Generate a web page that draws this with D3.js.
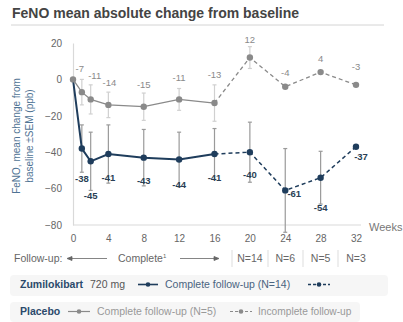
<!DOCTYPE html>
<html><head><meta charset="utf-8">
<script src="https://cdn.jsdelivr.net/npm/d3@7"></script>
<style>
html,body{margin:0;padding:0;background:#fff;}
svg{display:block;font-family:"Liberation Sans",Arial,sans-serif;}
</style></head>
<body><svg id="c" width="403" height="322"></svg>
<script>
// ---- data ----
const weeks = [0, 1, 2, 4, 8, 12, 16, 20, 24, 28, 32];
const weekTicks = [0, 4, 8, 12, 16, 20, 24, 28, 32];
const yTicks = [20, 0, -20, -40, -60, -80];
const zumiValues = [0, -38, -45, -41, -43, -44, -41, -40, -61, -54, -37];
const zumiSEM = [0, 13, 16, 16, 15.5, 15, 14, 16.5, 23, 14.5, null];
const placeboValues = [0, -7, -11, -14, -15, -11, -13, 12, -4, 4, -3];
const placeboSEM = [0, 7, 8, 7, 7.5, 6, 10, 6, null, null, null];
const completeUntilWeek = 16;
const followUpN = ["N=14", "N=6", "N=5", "N=3"];
const followUpWeeks = [20, 24, 28, 32];
// label layout (pixel offsets, not data)
const zumiLabelDx = [0, 0, 0, 0, 0, 0, 0, 0, 9, 0, 5];
const zumiLabelDy = [0, 33, 38, 27, 26, 29, 27, 26, 7, 33, 13];
const plLabelDx = [0, -2, 4, 1, 0, 0, 0, 0, 0, 0, 0];
const plLabelDy = [0, -20, -20, -19, -19, -18, -25, -15, -11, -10, -15];

const NAVY = "#1f3d5c", GREY = "#8a8a8a";
const svg = d3.select("#c");
const x = d3.scaleLinear().domain([0, 32]).range([73, 356]);
const y = d3.scaleLinear().domain([-80, 20]).range([225, 43]);

// title
svg.append("text").attr("x", 12).attr("y", 18).attr("font-size", 14).attr("font-weight", "bold")
  .attr("fill", "#444").text("FeNO mean absolute change from baseline");
svg.append("line").attr("x1", 11).attr("x2", 384).attr("y1", 25).attr("y2", 25)
  .attr("stroke", "#d4d4d4").attr("stroke-width", 1);

// axes
const yAxis = svg.append("g").attr("transform", `translate(${x(0)},0)`)
  .call(d3.axisLeft(y).tickValues(yTicks).tickSize(0).tickPadding(11));
const xAxis = svg.append("g").attr("transform", `translate(0,${y(-80)})`)
  .call(d3.axisBottom(x).tickValues(weekTicks).tickSize(0).tickPadding(10));
[yAxis, xAxis].forEach(g => {
  g.select(".domain").attr("stroke", "#d9d9d9").attr("stroke-width", 1.2);
  g.selectAll("text").attr("fill", "#666").attr("font-size", 10).attr("font-family", "Liberation Sans, Arial, sans-serif");
});
xAxis.select(".domain").attr("d", `M${x(0)},0H${x(32) + 5}`);
svg.append("text").attr("x", 369).attr("y", 231).attr("font-size", 11).attr("fill", "#777").text("Weeks");

// y label
const yl = svg.append("text").attr("transform", `translate(20,136) rotate(-90)`)
  .attr("text-anchor", "middle").attr("font-size", 10).attr("fill", "#4f7394");
yl.append("tspan").attr("x", 0).attr("dy", 0).text("FeNO, mean change from");
yl.append("tspan").attr("x", 0).attr("dy", 13).text("baseline ±SEM (ppb)");

const zumi = weeks.map((w, i) => ({w, v: zumiValues[i], se: zumiSEM[i], i}));
const pl = weeks.map((w, i) => ({w, v: placeboValues[i], se: placeboSEM[i], i}));

function errorBars(data, color) {
  const g = svg.append("g").attr("stroke", color).attr("stroke-width", 1.2);
  data.filter(d => d.se).forEach(d => {
    const top = y(d.v + d.se), bot = Math.min(y(d.v - d.se), 233), cx = x(d.w);
    g.append("line").attr("x1", cx).attr("x2", cx).attr("y1", top).attr("y2", bot);
    g.append("line").attr("x1", cx - 2).attr("x2", cx + 2).attr("y1", top).attr("y2", top);
    g.append("line").attr("x1", cx - 2).attr("x2", cx + 2).attr("y1", bot).attr("y2", bot);
  });
}
errorBars(zumi, "#9a9a9a");
errorBars(pl, "#d0d0d0");

const line = d3.line().x(d => x(d.w)).y(d => y(d.v));
function series(data, color, wSolid, wDash) {
  svg.append("path").datum(data.filter(d => d.w <= completeUntilWeek)).attr("d", line)
    .attr("fill", "none").attr("stroke", color).attr("stroke-width", wSolid);
  svg.append("path").datum(data.filter(d => d.w >= completeUntilWeek)).attr("d", line)
    .attr("fill", "none").attr("stroke", color).attr("stroke-width", wDash).attr("stroke-dasharray", "4,3");
}
series(zumi, NAVY, 2, 1.5);
series(pl, GREY, 1.3, 1.3);
svg.append("g").selectAll("circle").data(zumi.filter(d => d.w > 0)).join("circle")
  .attr("cx", d => x(d.w)).attr("cy", d => y(d.v)).attr("r", 3.2).attr("fill", NAVY);
svg.append("g").selectAll("circle").data(pl).join("circle")
  .attr("cx", d => x(d.w)).attr("cy", d => y(d.v)).attr("r", 3.2).attr("fill", GREY);

// labels
svg.append("g").selectAll("text").data(zumi.filter(d => d.w > 0)).join("text")
  .attr("x", d => x(d.w) + zumiLabelDx[d.i]).attr("y", d => y(d.v) + zumiLabelDy[d.i])
  .attr("text-anchor", "middle").attr("font-size", 9.5).attr("font-weight", "bold").attr("fill", "#2a3f55")
  .text(d => d.v);
svg.append("g").selectAll("text").data(pl.filter(d => d.w > 0)).join("text")
  .attr("x", d => x(d.w) + plLabelDx[d.i]).attr("y", d => y(d.v) + plLabelDy[d.i])
  .attr("text-anchor", "middle").attr("font-size", 9.5).attr("fill", "#8a8a8a")
  .text(d => d.v);

// follow-up row
const fy = 262;
svg.append("text").attr("x", 14).attr("y", fy).attr("font-size", 10.5).attr("fill", "#666").text("Follow-up:");
const arr = svg.append("g").attr("stroke", "#666").attr("stroke-width", 0.8).attr("fill", "#666");
arr.append("line").attr("x1", 69).attr("x2", 107).attr("y1", fy - 3.5).attr("y2", fy - 3.5);
arr.append("path").attr("d", `M67,${fy - 3.5}l5,-2v4z`);
arr.append("line").attr("x1", 180).attr("x2", 216).attr("y1", fy - 3.5).attr("y2", fy - 3.5);
arr.append("path").attr("d", `M219,${fy - 3.5}l-5,-2v4z`);
const ct = svg.append("text").attr("x", 118).attr("y", fy).attr("font-size", 10.5).attr("fill", "#666").text("Complete");
ct.append("tspan").attr("font-size", 6).attr("dy", -4).text("1");
[232, 268, 303, 338].forEach(sx => svg.append("line").attr("x1", sx).attr("x2", sx)
  .attr("y1", fy - 12).attr("y2", fy + 5).attr("stroke", "#ddd"));
svg.append("g").selectAll("text").data(followUpN).join("text")
  .attr("x", (d, i) => x(followUpWeeks[i])).attr("y", fy).attr("text-anchor", "middle")
  .attr("font-size", 10.5).attr("fill", "#666").text(d => d);

// legend
svg.append("rect").attr("x", 10).attr("y", 275).attr("width", 378).attr("height", 21).attr("rx", 4).attr("fill", "#f6f6f6");
svg.append("rect").attr("x", 10).attr("y", 302).attr("width", 350).attr("height", 20).attr("rx", 4).attr("fill", "#f6f6f6");
function marker(x1, x2, yy, color, dashed, w) {
  svg.append("line").attr("x1", x1).attr("x2", x2).attr("y1", yy).attr("y2", yy)
    .attr("stroke", color).attr("stroke-width", w).attr("stroke-dasharray", dashed ? "3,2" : null);
  svg.append("circle").attr("cx", (x1 + x2) / 2).attr("cy", yy).attr("r", 2.3).attr("fill", color);
}
const l1 = 288, l2 = 315;
svg.append("text").attr("x", 20).attr("y", l1).attr("font-size", 10.5).attr("font-weight", "bold").attr("fill", "#2b4a6b").text("Zumilokibart");
svg.append("text").attr("x", 90).attr("y", l1).attr("font-size", 10.5).attr("fill", "#555").text("720 mg");
marker(138, 158, l1 - 3.5, NAVY, false, 1.6);
svg.append("text").attr("x", 165).attr("y", l1).attr("font-size", 10.5).attr("fill", "#4a6480").text("Complete follow-up (N=14)");
marker(308, 330, l1 - 3.5, NAVY, true, 1.4);
svg.append("text").attr("x", 20).attr("y", l2).attr("font-size", 10.5).attr("font-weight", "bold").attr("fill", "#2b4a6b").text("Placebo");
marker(68, 90, l2 - 3.5, GREY, false, 1.2);
svg.append("text").attr("x", 97).attr("y", l2).attr("font-size", 10.5).attr("fill", "#999").text("Complete follow-up (N=5)");
marker(230, 252, l2 - 3.5, GREY, true, 1.2);
svg.append("text").attr("x", 258).attr("y", l2).attr("font-size", 10.2).attr("fill", "#999").text("Incomplete follow-up");
</script></body></html>
